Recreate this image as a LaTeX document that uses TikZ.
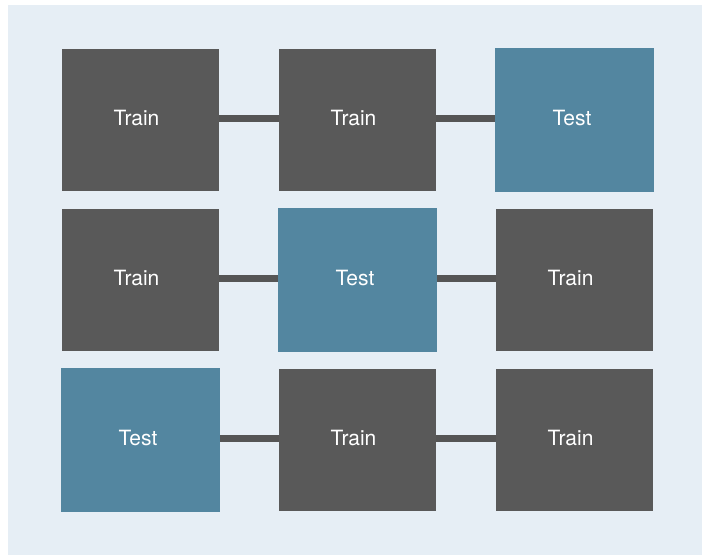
\documentclass[tikz,border=0pt]{standalone}
\usepackage{fontspec}
\setmainfont{TeX Gyre Heros}
\definecolor{bgc}{HTML}{E6EEF5}
\definecolor{boxgray}{HTML}{595959}
\definecolor{boxblue}{HTML}{5386A0}
\definecolor{linegray}{HTML}{555555}
\newcommand{\trn}{\raisebox{3pt}{Train}\kern8pt}
\newcommand{\tst}{\raisebox{3pt}{Test}\kern5pt}
\tikzset{
  trainbox/.style={fill=boxgray, draw=none, minimum width=157pt, minimum height=142pt, inner sep=0pt, text=white, font=\fontsize{21}{24}\selectfont},
  testbox/.style={fill=boxblue, draw=none, minimum width=159pt, minimum height=144pt, inner sep=0pt, text=white, font=\fontsize{21}{24}\selectfont},
  link/.style={draw=linegray, line width=7pt}
}
\begin{document}
\begin{tikzpicture}[x=1pt,y=-1pt]
\useasboundingbox (0,0) rectangle (702,555);
\fill[white] (0,0) rectangle (702,555);
\fill[bgc] (8,5) rectangle (702,555);
% row 1
\node[trainbox] (a1) at (140.5,119.5) {\trn};
\node[trainbox] (a2) at (357.5,119.5) {\trn};
\node[testbox]  (a3) at (574.5,119.5) {\tst};
% row 2
\node[trainbox] (b1) at (140.5,279.5) {\trn};
\node[testbox]  (b2) at (357.5,279.5) {\tst};
\node[trainbox] (b3) at (574.5,279.5) {\trn};
% row 3
\node[testbox]  (c1) at (140.5,439.5) {\tst};
\node[trainbox] (c2) at (357.5,439.5) {\trn};
\node[trainbox] (c3) at (574.5,439.5) {\trn};
% links
\draw[link] ([yshift=1pt]a1.east) -- ([yshift=1pt]a2.west);
\draw[link] ([yshift=1pt]a2.east) -- ([yshift=1pt]a3.west);
\draw[link] ([yshift=1.5pt]b1.east) -- ([yshift=1.5pt]b2.west);
\draw[link] ([yshift=1.5pt]b2.east) -- ([yshift=1.5pt]b3.west);
\draw[link] ([yshift=1.5pt]c1.east) -- ([yshift=1.5pt]c2.west);
\draw[link] ([yshift=1.5pt]c2.east) -- ([yshift=1.5pt]c3.west);
\end{tikzpicture}
\end{document}
